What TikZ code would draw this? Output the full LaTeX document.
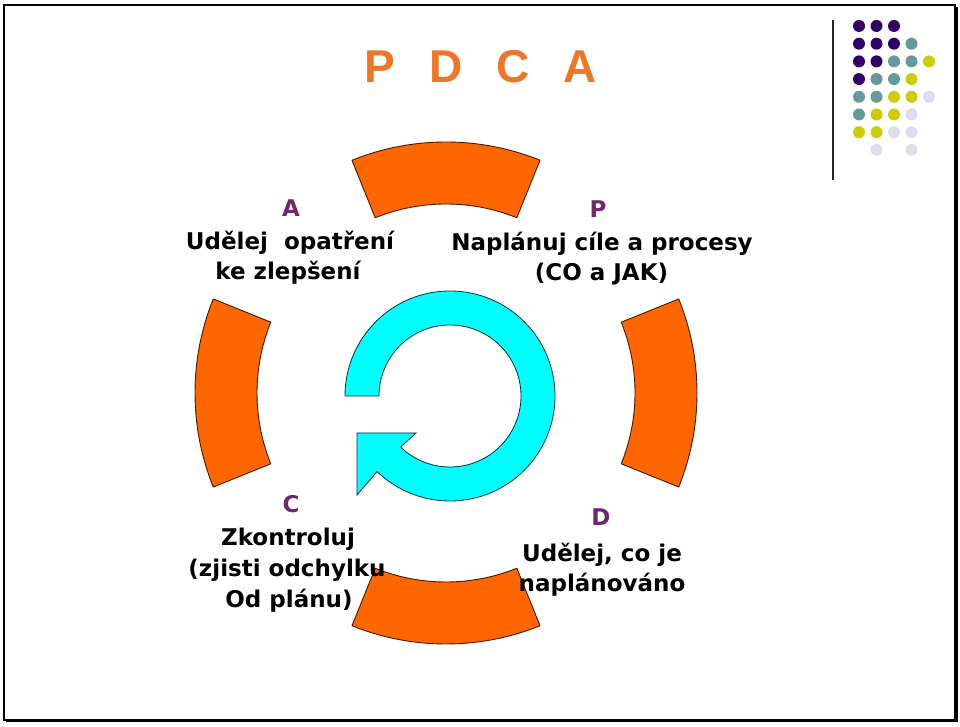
\documentclass[tikz,border=0pt]{standalone}
\usepackage{fontspec}
\newfontfamily\lblfont{DejaVu Sans}
\newfontfamily\ttlfont{Liberation Sans}
\definecolor{segorange}{RGB}{255,102,0}
\definecolor{segline}{RGB}{70,25,0}
\definecolor{arrcyan}{RGB}{0,255,255}
\definecolor{arrline}{RGB}{0,50,60}
\definecolor{ttlorange}{RGB}{235,120,40}
\definecolor{lblpurple}{RGB}{110,40,110}
\definecolor{dotP}{RGB}{51,0,102}
\definecolor{dotT}{RGB}{102,153,153}
\definecolor{dotY}{RGB}{206,204,10}
\definecolor{dotL}{RGB}{221,221,238}
\tikzset{
  seg/.style={fill=segorange, draw=segline, line width=0.9pt, line join=round},
  cyanarrow/.style={fill=arrcyan, draw=arrline, line width=0.8pt, line join=miter},
  lbl/.style={font=\lblfont\bfseries\fontsize{23}{29}\selectfont, anchor=base, inner sep=0pt, text=black},
  letter/.style={lbl, text=lblpurple},
  ttl/.style={font=\ttlfont\bfseries\fontsize{46}{50}\selectfont, anchor=base, inner sep=0pt, text=ttlorange},
  dot/.style={circle, inner sep=0pt, minimum size=12pt, draw=none}
}
\begin{document}
\begin{tikzpicture}[x=1pt, y=1pt]
\useasboundingbox (0,0) rectangle (960,727);
\fill[white] (0,0) rectangle (960,727);
% frame
\draw[line width=1.5pt, black] (4,7) rectangle (955,722);
\draw[line width=3pt, black] (6,6) -- (956,6) -- (956,720);

% centers
\coordinate (ctr) at (446,334);
\coordinate (cc) at (450,331);

% orange ring segments
\draw[seg] ([shift={(68:251)}]ctr) arc[start angle=68, end angle=112, radius=251]
  -- ([shift={(112:189)}]ctr) arc[start angle=112, end angle=68, radius=189] -- cycle;
\draw[seg] ([shift={(158:251)}]ctr) arc[start angle=158, end angle=202, radius=251]
  -- ([shift={(202:189)}]ctr) arc[start angle=202, end angle=158, radius=189] -- cycle;
\draw[seg] ([shift={(-22:251)}]ctr) arc[start angle=-22, end angle=22, radius=251]
  -- ([shift={(22:189)}]ctr) arc[start angle=22, end angle=-22, radius=189] -- cycle;
\draw[seg] ([shift={(248:251)}]ctr) arc[start angle=248, end angle=292, radius=251]
  -- ([shift={(292:189)}]ctr) arc[start angle=292, end angle=248, radius=189] -- cycle;

% cyan circular arrow
\coordinate (hbo) at (357,232);
\coordinate (htip) at (357,294);
\coordinate (hbi) at (416,294);
\draw[cyanarrow] ([shift={(180:105)}]cc) arc[start angle=180, end angle=-134, radius=105]
  -- (hbo) -- (htip) -- (hbi)
  -- ([shift={(-134:71)}]cc) arc[start angle=-134, end angle=180, radius=71] -- cycle;

% title
\node[ttl] (title) at (481,644) {P\hspace{34pt}D\hspace{34pt}C\hspace{34pt}A};

% A
\node[letter] (Aletter) at (291,510.3) {A};
\node[lbl] (A1) at (290,477) {Udělej\ \ opatření};
\node[lbl] (A2) at (288,447) {ke zlepšení};
% P
\node[letter] (Pletter) at (598,509) {P};
\node[lbl] (P1) at (602,476) {Naplánuj cíle a procesy};
\node[lbl] (P2) at (601.5,446) {(CO a JAK)};
% C
\node[letter] (Cletter) at (291,214) {C};
\node[lbl] (C1) at (288,181) {Zkontroluj};
\node[lbl] (C2) at (287,150) {(zjisti odchylku};
\node[lbl] (C3) at (289,119) {Od plánu)};
% D
\node[letter] (Dletter) at (601,201) {D};
\node[lbl] (D1) at (602,165) {Udělej, co je};
\node[lbl] (D2) at (602,135) {naplánováno};

% decoration: vertical line and dots
\draw[line width=1.5pt, black!85] (833,707) -- (833,547);
\foreach \c/\r/\col [count=\i] in {
  1/1/dotP,2/1/dotP,3/1/dotP,
  1/2/dotP,2/2/dotP,3/2/dotP,4/2/dotT,
  1/3/dotP,2/3/dotP,3/3/dotT,4/3/dotT,5/3/dotY,
  1/4/dotP,2/4/dotT,3/4/dotT,4/4/dotY,
  1/5/dotT,2/5/dotT,3/5/dotY,4/5/dotY,5/5/dotL,
  1/6/dotT,2/6/dotY,3/6/dotY,4/6/dotL,
  1/7/dotY,2/7/dotY,3/7/dotL,4/7/dotL,
  2/8/dotL,4/8/dotL}
  \node[dot, fill=\col] (dot\i) at ({841.5+17.5*\c},{727-26-17.7*(\r-1)}) {};
\end{tikzpicture}
\end{document}
